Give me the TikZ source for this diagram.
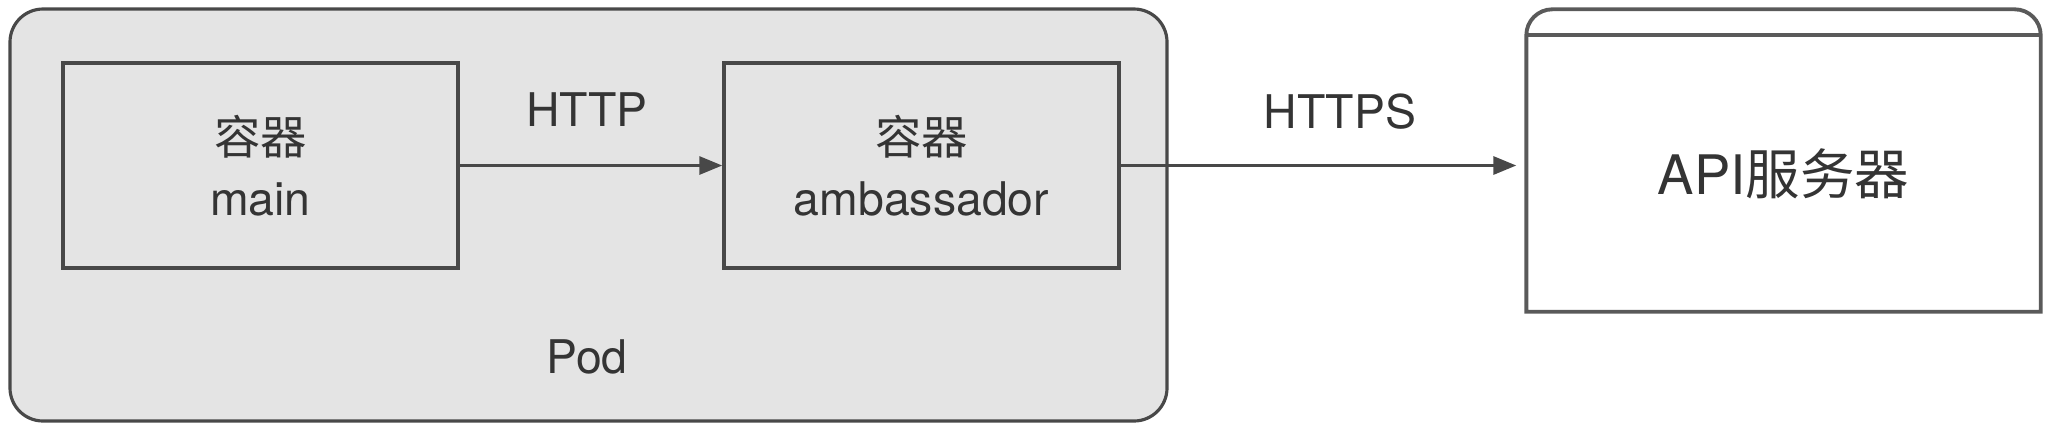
\documentclass[tikz,border=0pt]{standalone}
\usepackage{fontspec}
\usepackage{xcolor}
\usepackage{tikz}
\usetikzlibrary{arrows.meta, positioning, calc}
\setmainfont{TeX Gyre Heros}
\newfontfamily\cjk{Noto Sans CJK SC}
\definecolor{podfill}{HTML}{E4E4E4}
\definecolor{edge}{HTML}{484848}
\definecolor{ink}{HTML}{343434}

\begin{document}
\begin{tikzpicture}[
    pod/.style={rectangle, rounded corners=0.33cm, draw=edge, fill=podfill,
                line width=0.9pt, minimum width=11.57cm, minimum height=4.12cm},
    container/.style={rectangle, draw=edge, fill=podfill, line width=1pt,
                      text=ink, minimum width=3.95cm, minimum height=2.05cm,
                      align=center, font=\fontsize{13.2}{17.5}\selectfont},
    server/.style={rectangle, fill=white, text=ink, minimum width=5.13cm,
                   minimum height=2.75cm, font=\fontsize{15.5}{18}\selectfont},
    serverline/.style={draw=edge!90, line width=1.1pt},
    proto/.style={text=ink, font=\fontsize{13.2}{15}\selectfont},
    arrow/.style={-{Triangle[length=2.3mm, width=1.8mm]}, line width=0.9pt, color=edge}
  ]
    \useasboundingbox (0, 0) rectangle (20.5, 4.26);

    % Pod
    \node[pod] (pod) at (5.885, 2.11) {};
    \node[proto] (podlabel) at (5.87, 0.69) {Pod};

    % Containers
    \node[container] (main) at (2.605, 2.605) {{\cjk 容器}\\main};
    \node[container] (amb) at (9.215, 2.605) {{\cjk 容器}\\ambassador};

    % API server (window with top bar)
    \node[server] (api) at (17.835, 2.525) {API{\cjk 服务器}};
    \draw[serverline] (api.south west) -- (api.north west)
      arc[start angle=180, end angle=90, radius=0.26cm]
      -- ([xshift=-0.26cm, yshift=0.26cm]api.north east)
      arc[start angle=90, end angle=0, radius=0.26cm]
      -- (api.south east) -- cycle;
    \draw[serverline] (api.north west) -- (api.north east);

    % Protocol labels
    \node[proto] (http) at (5.87, 3.16) {HTTP};
    \node[proto] (https) at (13.40, 3.14) {HTTPS};

    % Arrows
    \draw[arrow] (main.east) -- (amb.west);
    \draw[arrow, shorten >=0.1cm] (amb.east) -- (amb.east -| api.west);
  \end{tikzpicture}
\end{document}
